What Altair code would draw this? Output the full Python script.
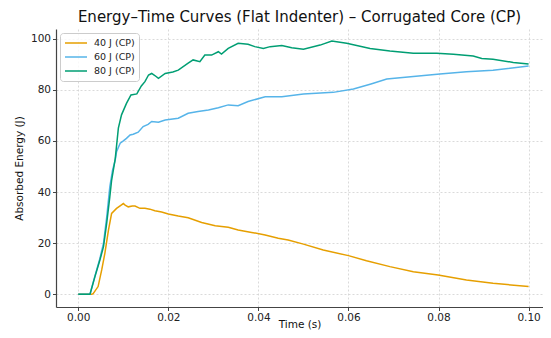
import altair as alt
import pandas as pd

# 40 J (CP)
t40 = [0.0, 0.001, 0.002, 0.003, 0.0033, 0.0044, 0.0052, 0.0059, 0.0067, 0.0074, 0.0085, 0.0096,
       0.0100, 0.0104, 0.0111, 0.0120, 0.0126, 0.0137, 0.0148, 0.0159, 0.0170, 0.0185, 0.0200, 0.0222,
       0.0244, 0.0274, 0.0304, 0.0333, 0.0355, 0.0385, 0.0415, 0.0444, 0.0466, 0.0500, 0.0544, 0.0600,
       0.0640, 0.0692, 0.0744, 0.0799, 0.0862, 0.0921, 0.1000]
e40 = [0.0, 0.0, 0.0, 0.0, 0.2, 3.0, 9.5, 16.0, 25.1, 31.6, 33.6, 35.0,
       35.5, 34.9, 34.2, 34.5, 34.5, 33.6, 33.6, 33.3, 32.7, 32.2, 31.4, 30.6,
       29.9, 28.1, 26.8, 26.2, 25.1, 24.2, 23.2, 21.9, 21.2, 19.6, 17.3, 15.1,
       13.1, 10.8, 8.8, 7.5, 5.6, 4.3, 3.0]

# 60 J (CP)
t60 = [0.0, 0.001, 0.002, 0.0026, 0.0037, 0.0048, 0.0056, 0.0063, 0.0070, 0.0076, 0.0082, 0.0085,
       0.0093, 0.0100, 0.0107, 0.0115, 0.0122, 0.0133, 0.0144, 0.0155, 0.0163, 0.0178, 0.0193, 0.0222,
       0.0244, 0.0266, 0.0289, 0.0311, 0.0333, 0.0355, 0.0377, 0.0415, 0.0452, 0.0500, 0.0566, 0.0611,
       0.0650, 0.0685, 0.0744, 0.0803, 0.0862, 0.0921, 0.1000]
e60 = [0.0, 0.0, 0.0, 0.0, 7.2, 14.0, 20.0, 30.0, 42.0, 48.5, 52.5, 55.8,
       59.1, 60.0, 61.0, 62.3, 62.6, 63.4, 65.6, 66.5, 67.6, 67.3, 68.2, 68.9,
       70.8, 71.5, 72.1, 73.0, 74.1, 73.8, 75.4, 77.3, 77.3, 78.4, 79.0, 80.3,
       82.3, 84.2, 85.2, 86.2, 87.1, 87.7, 89.3]

# 80 J (CP)
t80 = [0.0, 0.001, 0.002, 0.0026, 0.0037, 0.0048, 0.0056, 0.0063, 0.0070, 0.0074, 0.0082, 0.0089,
       0.0096, 0.0107, 0.0117, 0.0130, 0.0140, 0.0148, 0.0156, 0.0163, 0.0170, 0.0178, 0.0193, 0.0210,
       0.0222, 0.0244, 0.0255, 0.0270, 0.0281, 0.0296, 0.0311, 0.0318, 0.0333, 0.0355, 0.0377, 0.0392,
       0.0411, 0.0426, 0.0452, 0.0474, 0.0500, 0.0537, 0.0563, 0.0596, 0.0648, 0.0692, 0.0744, 0.0796,
       0.0833, 0.0877, 0.0896, 0.0921, 0.0966, 0.1000]
e80 = [0.0, 0.0, 0.0, 0.0, 6.9, 13.4, 18.6, 27.7, 38.1, 44.6, 53.0, 65.0,
       70.2, 74.7, 78.0, 78.4, 81.5, 83.2, 85.8, 86.4, 85.6, 84.5, 86.4, 87.0,
       87.7, 90.4, 91.7, 91.0, 93.6, 93.6, 94.9, 94.0, 96.2, 98.2, 97.8, 96.9,
       96.2, 96.9, 97.3, 96.5, 95.9, 97.5, 99.1, 98.2, 96.2, 95.2, 94.3, 94.3,
       93.9, 93.2, 92.3, 92.0, 90.7, 90.1]

series_names = ["40 J (CP)", "60 J (CP)", "80 J (CP)"]
series_colors = ["#E69F00", "#56B4E9", "#009E73"]

rows = []
for name, ts, es in zip(series_names, [t40, t60, t80], [e40, e60, e80]):
    for i, (t, e) in enumerate(zip(ts, es)):
        rows.append({"time": t, "energy": e, "series": name, "order": i})
df = pd.DataFrame(rows)

FONT = "DejaVu Sans"

chart = alt.Chart(df).mark_line(strokeWidth=1.5, clip=True).encode(
    x=alt.X("time:Q",
            scale=alt.Scale(domain=[-0.00495, 0.1032], nice=False, zero=False),
            axis=alt.Axis(title="Time (s)", values=[0, 0.02, 0.04, 0.06, 0.08, 0.10],
                          format=".2f", titleY=20, titleBaseline="alphabetic")),
    y=alt.Y("energy:Q",
            scale=alt.Scale(domain=[-5.0, 103.8], nice=False, zero=False),
            axis=alt.Axis(title="Absorbed Energy (J)", values=[0, 20, 40, 60, 80, 100])),
    color=alt.Color("series:N",
                    scale=alt.Scale(domain=series_names, range=series_colors),
                    legend=alt.Legend(title=None, orient="top-left", offset=4,
                                      symbolType="stroke", symbolSize=484,
                                      symbolStrokeWidth=1.5, labelFontSize=9.5,
                                      labelFont=FONT, labelColor="#222222",
                                      clipHeight=12, padding=4, rowPadding=2, labelOffset=6,
                                      cornerRadius=3, strokeColor="#cccccc",
                                      fillColor="rgba(255,255,255,0.8)")),
    order="order:Q",
).properties(
    width=487,
    height=278,
    title=alt.Title("Energy–Time Curves (Flat Indenter) – Corrugated Core (CP)",
                    font=FONT, fontSize=15, fontWeight="normal", color="#111111",
                    anchor="middle", offset=4),
    autosize=alt.AutoSizeParams(type="none"),
    padding={"left": 48, "top": 21, "right": 0, "bottom": 23},
).configure_view(stroke=None).configure_axis(
    labelFont=FONT, titleFont=FONT, labelFontSize=10.5, titleFontSize=10.5,
    labelColor="#222222", titleColor="#111111", titleFontWeight="normal",
    domainColor="#444444", domainWidth=1.2, tickColor="#444444", tickSize=3.5,
    labelPadding=2,
    gridColor="#d0d0d0", gridDash=[2, 2], gridWidth=0.8,
).configure_axisY(titlePadding=6)

chart.save("out.html", embed_options={"renderer": "svg", "actions": False})
